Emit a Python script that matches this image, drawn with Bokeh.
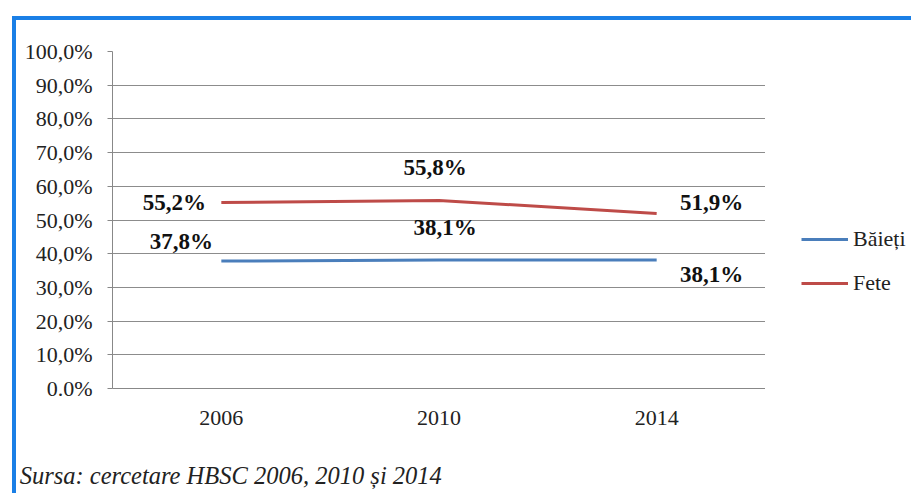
from bokeh.plotting import figure
from bokeh.layouts import row
from bokeh.models import (ColumnDataSource, Label, Legend, LegendItem,
                          FixedTicker, CustomJSTickFormatter, Range1d)
from bokeh.embed import file_html
from bokeh.resources import INLINE

years = ["2006", "2010", "2014"]
baieti = [37.8, 38.1, 38.1]
fete = [55.2, 55.8, 51.9]
baieti_labels = ["37,8%", "38,1%", "38,1%"]
fete_labels = ["55,2%", "55,8%", "51,9%"]
y_ticks = [0, 10, 20, 30, 40, 50, 60, 70, 80, 90, 100]
y_tick_labels = ["0.0%", "10,0%", "20,0%", "30,0%", "40,0%", "50,0%",
                 "60,0%", "70,0%", "80,0%", "90,0%", "100,0%"]
source_text = "Sursa: cercetare HBSC 2006, 2010 și 2014"

BLUE = "#4A7EBB"
RED = "#BE4B48"
FRAME_BLUE = "#1A7FE6"
FONT = "Liberation Serif"

H = 493
W_MAIN, W_LEG = 765, 146

bg_main = ("linear-gradient({c},{c}) 12px 16px / 4px 100% no-repeat, "
           "linear-gradient({c},{c}) 12px 16px / 100% 4px no-repeat, "
           "white").format(c=FRAME_BLUE)
bg_leg = ("linear-gradient({c},{c}) 0px 16px / 100% 4px no-repeat, "
          "white").format(c=FRAME_BLUE)

p = figure(x_range=years, y_range=(0, 100), width=W_MAIN, height=H,
           output_backend="svg", toolbar_location=None,
           min_border_left=112, min_border_right=0,
           min_border_top=51, min_border_bottom=105,
           styles={"background": bg_main})
p.background_fill_color = "white"
p.border_fill_alpha = 0
p.outline_line_color = None

# y axis
p.yaxis.ticker = FixedTicker(ticks=y_ticks)
p.yaxis.formatter = CustomJSTickFormatter(
    args=dict(t=y_ticks, l=y_tick_labels),
    code="const i = t.indexOf(tick); return i >= 0 ? l[i] : '';")
p.yaxis.major_label_text_font = FONT
p.yaxis.major_label_text_font_size = "22px"
p.yaxis.major_label_text_color = "#222222"
p.yaxis.axis_line_color = "#888888"
p.yaxis.major_tick_line_color = "#888888"
p.yaxis.major_tick_out = 5
p.yaxis.major_tick_in = 0
p.yaxis.minor_tick_line_color = None
p.yaxis.major_label_standoff = 15

# x axis; the source note is its label, padded on the right with
# no-break spaces so that it starts near the chart's left edge
p.xaxis.major_label_text_font = FONT
p.xaxis.major_label_text_font_size = "22px"
p.xaxis.major_label_text_color = "#222222"
p.xaxis.axis_line_color = "#888888"
p.xaxis.major_tick_line_color = None
p.xaxis.minor_tick_line_color = None
p.xaxis.major_label_standoff = 16
p.xaxis.axis_label = source_text + "\u00a0" * 68
p.xaxis.axis_label_text_font = FONT
p.xaxis.axis_label_text_font_size = "24.5px"
p.xaxis.axis_label_text_font_style = "italic"
p.xaxis.axis_label_text_color = "#222222"
p.xaxis.axis_label_standoff = 34

p.xgrid.grid_line_color = None
p.ygrid.grid_line_color = "#8C8C8C"
p.ygrid.grid_line_width = 1

src = ColumnDataSource(dict(x=years, b=baieti, f=fete))
p.line("x", "b", source=src, line_color=BLUE, line_width=3)
p.line("x", "f", source=src, line_color=RED, line_width=3)

lab_kw = dict(text_font=FONT, text_font_size="23px",
              text_font_style="bold", text_color="#111111",
              text_align="center", text_baseline="middle")

# Fete labels
for i, (dx, dy) in enumerate([(-47, 0), (-4, 33), (55, 11)]):
    p.add_layout(Label(x=i + 0.5, y=fete[i], text=fete_labels[i],
                       x_offset=dx, y_offset=dy, **lab_kw))
# Baieti labels
for i, (dx, dy) in enumerate([(-40, 20), (6, 33), (55, -14)]):
    p.add_layout(Label(x=i + 0.5, y=baieti[i], text=baieti_labels[i],
                       x_offset=dx, y_offset=dy, **lab_kw))

# legend panel (separate figure so the legend is not clipped)
pl = figure(x_range=years, y_range=Range1d(1000, 1001), width=W_LEG,
            height=H, output_backend="svg",
            toolbar_location=None, x_axis_type=None, y_axis_type=None,
            min_border_left=0, min_border_right=0,
            min_border_top=0, min_border_bottom=0,
            styles={"background": bg_leg})
pl.background_fill_alpha = 0
pl.border_fill_alpha = 0
pl.outline_line_color = None
pl.xgrid.grid_line_color = None
pl.ygrid.grid_line_color = None
lb = pl.line("x", "b", source=src, line_color=BLUE, line_width=3)
lf = pl.line("x", "f", source=src, line_color=RED, line_width=3)

legend = Legend(items=[LegendItem(label="Băieți", renderers=[lb]),
                       LegendItem(label="Fete", renderers=[lf])],
                location=(36, 92), orientation="vertical",
                border_line_color=None, background_fill_alpha=0,
                padding=0, margin=0, spacing=18,
                glyph_width=47, glyph_height=20, label_height=20,
                label_standoff=5, label_text_font=FONT,
                label_text_font_size="22px", label_text_color="#222222")
pl.add_layout(legend, "center")

layout = row(p, pl)
open("out.html", "w").write(file_html(layout, INLINE))
